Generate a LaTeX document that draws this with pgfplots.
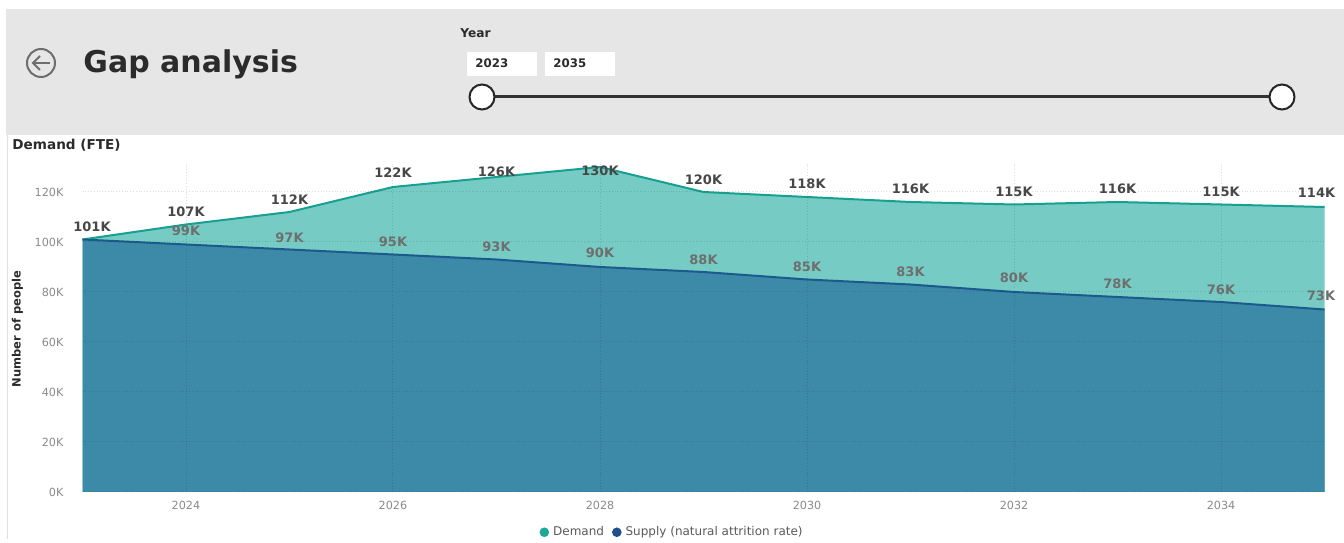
\documentclass[border=0pt]{standalone}
\usepackage{fontspec}
\setmainfont{DejaVu Sans}
\usepackage{pgfplots}
\pgfplotsset{compat=1.18}
\usepackage{pgfplotstable}

\definecolor{headerbg}{HTML}{E6E6E6}
\definecolor{demandfill}{HTML}{76CCC4}
\definecolor{demandline}{HTML}{17A08F}
\definecolor{supplyfill}{HTML}{3C8AA7}
\definecolor{supplyline}{HTML}{1C5A8C}
\definecolor{demanddot}{HTML}{1AA897}
\definecolor{supplydot}{HTML}{1F4F8B}
\definecolor{darktext}{HTML}{2B2B2B}
\definecolor{demandlabel}{HTML}{474747}
\definecolor{supplylabel}{HTML}{6E6E6E}
\definecolor{ticktext}{HTML}{8A8A8A}
\definecolor{legendtext}{HTML}{5A5A5A}
\definecolor{icongray}{HTML}{6D6D6D}

% Demand (FTE) in thousands; dy/dx move the value label off the point (pt)
\pgfplotstableread{
year val dy dx
2023 101 6.5 4.75
2024 107 6.5 0
2025 112 6.0 0
2026 122 7.0 0
2027 126 2.5 0
2028 130 -2.0 0
2029 120 6.0 0
2030 118 6.5 0
2031 116 6.5 0
2032 115 6.5 0
2033 116 6.5 0
2034 115 6.5 0
2035 114 7.0 -4
}\demand

% Supply under natural attrition, in thousands
\pgfplotstableread{
year val dy dx
2023 101 0 0
2024 99 7.0 0
2025 97 6.0 0
2026 95 6.5 0
2027 93 6.5 0
2028 90 7.0 0
2029 88 6.0 0
2030 85 6.5 0
2031 83 6.5 0
2032 80 7.0 0
2033 78 6.5 0
2034 76 6.0 0
2035 73 7.0 -1.75
}\supply

\begin{document}
\begin{tikzpicture}
\begin{scope}[x=0.5pt,y=-0.5pt]
  \fill[white] (0,0) rectangle (1344,539);
  \useasboundingbox (0,0) rectangle (1344,539);
  % header band
  \fill[headerbg] (6,9) rectangle (1344,135);
  \draw[gray!25, line width=0.5pt] (7,135) -- (7,539);
  % back button
  \draw[icongray, line width=1pt] (41,63) circle (14);
  \draw[icongray, line width=1pt] (33,63) -- (50,63);
  \draw[icongray, line width=1pt] (40,56) -- (33,63) -- (40,70);
  % title
  \node[anchor=base west, inner sep=0pt, text=darktext,
        font=\fontsize{15}{18}\selectfont\bfseries] at (83,73) {Gap analysis};
  % year slicer
  \node[anchor=base west, inner sep=0pt, text=darktext,
        font=\fontsize{6.1}{7}\selectfont\bfseries] at (460,38) {Year};
  \fill[white] (467,52) rectangle (537,76);
  \fill[white] (545,52) rectangle (615,76);
  \node[anchor=base west, inner sep=0pt, text=darktext,
        font=\fontsize{5.9}{7}\selectfont\bfseries] at (475,68) {2023};
  \node[anchor=base west, inner sep=0pt, text=darktext,
        font=\fontsize{5.9}{7}\selectfont\bfseries] at (553,68) {2035};
  \draw[black!80, line width=1.5pt] (482,97) -- (1282,97);
  \draw[black!85, line width=1pt, fill=white] (482,97) circle (12.5);
  \draw[black!85, line width=1pt, fill=white] (1282,97) circle (12.5);
  % chart title
  \node[anchor=base west, inner sep=0pt, text=darktext,
        font=\fontsize{6.8}{8}\selectfont\bfseries] at (12,150) {Demand (FTE)};
\end{scope}

\begin{axis}[
  at={(41.25pt,-246pt)}, anchor=south west,
  scale only axis, width=621pt, height=165pt,
  xmin=2023, xmax=2035, ymin=0, ymax=132,
  xtick={2024,2026,...,2034},
  ytick={0,20,...,120},
  /pgf/number format/.cd, 1000 sep={}, assume math mode=true, /pgfplots/.cd,
  yticklabel={\pgfmathprintnumber{\tick}K},
  ticklabel style={font=\fontsize{5.6}{6}\selectfont, text=ticktext},
  yticklabel style={xshift=-6pt},
  xticklabel style={yshift=-1pt},
  major tick length=0pt,
  axis line style={draw=none},
  axis on top,
  grid=major,
  major grid style={densely dotted, color=black, opacity=0.13, line width=0.5pt},
  clip=false,
  ylabel={Number of people},
  every axis y label/.style={at={(axis description cs:-0.0523,0.494)},
    rotate=90, anchor=center, text=darktext,
    font=\fontsize{5.75}{7}\selectfont\bfseries},
  legend style={at={(axis description cs:0.4755,-0.122)}, anchor=center,
    draw=none, fill=none, inner sep=0pt, legend columns=2,
    font=\fontsize{6}{7}\selectfont, text=legendtext,
    /tikz/every even column/.append style={column sep=2pt}},
  legend image code/.code={\fill[draw=none,#1] (0.16cm,0cm) circle (2.4pt);},
]
  % demand area and edge
  \addplot[fill=demandfill, draw=none, forget plot]
    table[x=year, y=val]{\demand} \closedcycle;
  \addplot[demandline, line width=1pt, forget plot]
    table[x=year, y=val]{\demand};
  % supply area and edge
  \addplot[fill=supplyfill, draw=none, forget plot]
    table[x=year, y=val]{\supply} \closedcycle;
  \addplot[supplyline, line width=1pt, forget plot]
    table[x=year, y=val]{\supply};

  % value labels
  \addplot[draw=none, mark=none, forget plot, point meta=y,
    visualization depends on={\thisrow{dy}\as\dy},
    visualization depends on={\thisrow{dx}\as\dx},
    nodes near coords={\pgfmathprintnumber{\pgfplotspointmeta}K},
    nodes near coords style={anchor=center, inner sep=0pt,
      xshift=\dx pt, yshift=\dy pt,
      font=\fontsize{6.5}{7}\selectfont\bfseries, text=demandlabel}]
    table[x=year, y=val]{\demand};
  \addplot[draw=none, mark=none, forget plot, point meta=y,
    skip coords between index={0}{1},
    visualization depends on={\thisrow{dy}\as\dy},
    visualization depends on={\thisrow{dx}\as\dx},
    nodes near coords={\pgfmathprintnumber{\pgfplotspointmeta}K},
    nodes near coords style={anchor=center, inner sep=0pt,
      xshift=\dx pt, yshift=\dy pt,
      font=\fontsize{6.5}{7}\selectfont\bfseries, text=supplylabel}]
    table[x=year, y=val]{\supply};

  \addlegendimage{fill=demanddot}
  \addlegendentry{Demand}
  \addlegendimage{fill=supplydot}
  \addlegendentry{Supply (natural attrition rate)}
\end{axis}
\end{tikzpicture}
\end{document}
